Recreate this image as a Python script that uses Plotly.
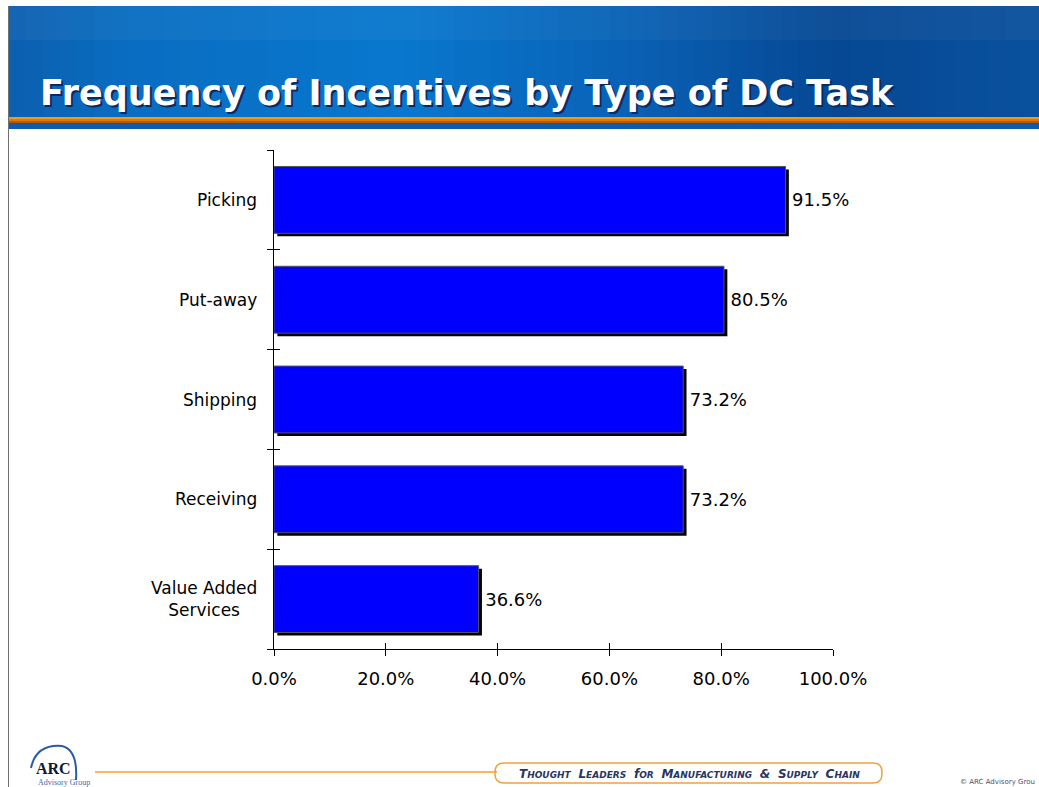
import plotly.graph_objects as go

# ---- data ----
categories = ["Picking", "Put-away", "Shipping", "Receiving", "Value Added<br>Services"]
values = [91.5, 80.5, 73.2, 73.2, 36.6]
x_tickvals = [0, 20, 40, 60, 80, 100]
x_ticktext = ["0.0%", "20.0%", "40.0%", "60.0%", "80.0%", "100.0%"]
title_text = "Frequency of Incentives by Type of DC Task"

W, H = 1039, 787
def px(x):
    return x / W
def py(y):
    return 1 - y / H

FONT = "DejaVu Sans"
cat_order = categories[::-1]  # bottom to top

fig = go.Figure()

# shadow bars
fig.add_trace(go.Bar(
    y=categories, x=values, base=0.6, orientation="h",
    marker=dict(color="black", line=dict(width=0)),
    width=0.67, offset=-0.365, hoverinfo="skip", showlegend=False,
    xaxis="x", yaxis="y",
))
# main bars
fig.add_trace(go.Bar(
    y=categories, x=values, orientation="h",
    marker=dict(color="#0000ff", line=dict(color="#555555", width=1)),
    width=0.67, offset=-0.335, showlegend=False,
    text=[f"\u2009{v:.1f}%" for v in values], textposition="outside",
    textfont=dict(family=FONT, size=18, color="black"),
    cliponaxis=False,
    xaxis="x", yaxis="y",
))

xdom = [px(274), px(833)]
ydom = [py(649), py(150)]

fig.update_layout(
    width=W, height=H, autosize=False,
    margin=dict(l=0, r=0, t=0, b=0, pad=0, autoexpand=False),
    paper_bgcolor="white", plot_bgcolor="white",
    barmode="overlay",
    showlegend=False,
    xaxis=dict(
        domain=xdom, range=[0, 100], tickvals=x_tickvals, ticktext=x_ticktext,
        showgrid=False, zeroline=False, showline=True, linecolor="black", linewidth=1,
        ticks="outside", ticklen=6, tickcolor="black", tickwidth=1, automargin=False,
        tickfont=dict(family=FONT, size=18, color="black"), ticklabelstandoff=7,
        fixedrange=True,
    ),
    xaxis2=dict(
        domain=xdom, range=[0, 100], tickvals=x_tickvals, overlaying="x",
        anchor="y", showgrid=False, zeroline=False, showline=False, automargin=False,
        ticks="inside", ticklen=6, tickcolor="black", showticklabels=False,
    ),
    yaxis=dict(
        domain=ydom, type="category", categoryorder="array", categoryarray=cat_order,
        range=[-0.5, 4.5], showgrid=False, zeroline=False, showline=True, automargin=False,
        linecolor="black", linewidth=1, ticks="outside", ticklen=6, tickcolor="black",
        tickson="boundaries", showticklabels=False,
    ),
    yaxis2=dict(
        domain=ydom, type="category", categoryorder="array", categoryarray=cat_order,
        range=[-0.5, 4.5], overlaying="y", anchor="x", showgrid=False, automargin=False,
        zeroline=False, showline=False, ticks="inside", ticklen=6,
        tickcolor="black", tickson="boundaries", showticklabels=False,
    ),
)

fig.add_trace(go.Scatter(x=[None] * len(categories), y=categories, xaxis="x2", yaxis="y2",
                         mode="markers", showlegend=False, hoverinfo="skip"))

annotations = []
for c in categories:
    annotations.append(dict(
        x=px(259), xref="paper", y=c, yref="y", text=c, showarrow=False,
        xanchor="right", yanchor="middle", align="center",
        font=dict(family=FONT, size=17, color="black"),
    ))

shapes = []
stops = [(0, (12, 96, 176)), (0.12, (10, 110, 194)), (0.38, (8, 120, 206)),
         (0.6, (10, 98, 182)), (0.8, (6, 72, 148)), (1.0, (10, 82, 158))]
def lerp_color(t):
    for i in range(len(stops) - 1):
        a, ca = stops[i]
        b, cb = stops[i + 1]
        if a <= t <= b:
            f = (t - a) / (b - a) if b > a else 0
            return "rgb(%d,%d,%d)" % tuple(int(ca[k] + (cb[k] - ca[k]) * f) for k in range(3))
    return "rgb(10,84,160)"
N = 60
x0h, x1h = 8, W
for i in range(N):
    xa = x0h + (x1h - x0h) * i / N
    xb = min(W, x0h + (x1h - x0h) * (i + 1) / N + 1)
    shapes.append(dict(type="rect", xref="paper", yref="paper",
                       x0=px(xa), x1=px(xb), y0=py(117), y1=py(6),
                       fillcolor=lerp_color((i + 0.5) / N), line=dict(width=0), layer="below"))
shapes.append(dict(type="rect", xref="paper", yref="paper", x0=px(8), x1=px(W), y0=py(40), y1=py(6),
                   fillcolor="rgba(255,255,255,0.04)", line=dict(width=0), layer="below"))
orange_rows = [(117, 119, "#f59a10"), (119, 121, "#e07800"), (121, 123, "#b05a00"), (123, 124, "#7a4010")]
for y0, y1, col in orange_rows:
    shapes.append(dict(type="rect", xref="paper", yref="paper", x0=px(8), x1=px(W),
                       y0=py(y1), y1=py(y0), fillcolor=col, line=dict(width=0), layer="below"))
shapes.append(dict(type="rect", xref="paper", yref="paper", x0=px(8), x1=px(W),
                   y0=py(129), y1=py(124), fillcolor="#0b5cb0", line=dict(width=0), layer="below"))
shapes.append(dict(type="line", xref="paper", yref="paper", x0=px(8.5), x1=px(8.5),
                   y0=0, y1=py(6), line=dict(color="#707070", width=1)))
shapes.append(dict(type="line", xref="paper", yref="paper", x0=px(95), x1=px(497),
                   y0=py(772), y1=py(772), line=dict(color="#f5a623", width=1.5)))
bx0, bx1, by0, by1, r = 495, 882, 763, 783, 9
path = (f"M {px(bx0 + r)},{py(by0)} L {px(bx1 - r)},{py(by0)} "
        f"Q {px(bx1)},{py(by0)} {px(bx1)},{py(by0 + r)} L {px(bx1)},{py(by1 - r)} "
        f"Q {px(bx1)},{py(by1)} {px(bx1 - r)},{py(by1)} L {px(bx0 + r)},{py(by1)} "
        f"Q {px(bx0)},{py(by1)} {px(bx0)},{py(by1 - r)} L {px(bx0)},{py(by0 + r)} "
        f"Q {px(bx0)},{py(by0)} {px(bx0 + r)},{py(by0)} Z")
shapes.append(dict(type="path", xref="paper", yref="paper", path=path,
                   line=dict(color="#f0a040", width=1.5), fillcolor="rgba(255,255,255,0)"))
arc = f"M {px(31)},{py(768)} Q {px(36)},{py(744)} {px(62)},{py(746)} Q {px(78)},{py(750)} {px(76)},{py(780)}"
shapes.append(dict(type="path", xref="paper", yref="paper", path=arc,
                   line=dict(color="#2a5aa8", width=2)))

annotations.append(dict(x=px(40), y=py(95), xref="paper", yref="paper", text=f"<b>{title_text}</b>",
                        showarrow=False, xanchor="left", yanchor="middle",
                        font=dict(family=FONT, size=35, color="#0a2a60")))
annotations.append(dict(x=px(38), y=py(93), xref="paper", yref="paper", text=f"<b>{title_text}</b>",
                        showarrow=False, xanchor="left", yanchor="middle",
                        font=dict(family=FONT, size=35, color="white")))
annotations.append(dict(x=px(34), y=py(768), xref="paper", yref="paper", text="<b>ARC</b>",
                        showarrow=False, xanchor="left", yanchor="middle",
                        font=dict(family="Liberation Serif", size=16, color="#101830")))
annotations.append(dict(x=px(36), y=py(782), xref="paper", yref="paper", text="Advisory Group",
                        showarrow=False, xanchor="left", yanchor="middle",
                        font=dict(family="Liberation Serif", size=8, color="#3a6ab0")))
def small_caps(s, big=12, small=9):
    out = []
    for word in s.split(" "):
        if word == "&":
            out.append(f"<span style='font-size:{big}px'>&amp;</span>")
            continue
        out.append(f"<span style='font-size:{big}px'>{word[0]}</span><span style='font-size:{small}px'>{word[1:].upper()}</span>")
    return "&nbsp;&nbsp;".join(out)
annotations.append(dict(x=px(689), y=py(774), xref="paper", yref="paper",
                        text="<b><i>" + small_caps("Thought Leaders for Manufacturing & Supply Chain") + "</i></b>",
                        showarrow=False, xanchor="center", yanchor="middle",
                        font=dict(family="DejaVu Sans", size=11, color="#2a3560")))
annotations.append(dict(x=px(1037), y=py(782), xref="paper", yref="paper", text="© ARC Advisory Grou",
                        showarrow=False, xanchor="right", yanchor="middle",
                        font=dict(family=FONT, size=7, color="#4a5070")))

fig.update_layout(shapes=shapes, annotations=annotations)
fig.write_html("out.html")
